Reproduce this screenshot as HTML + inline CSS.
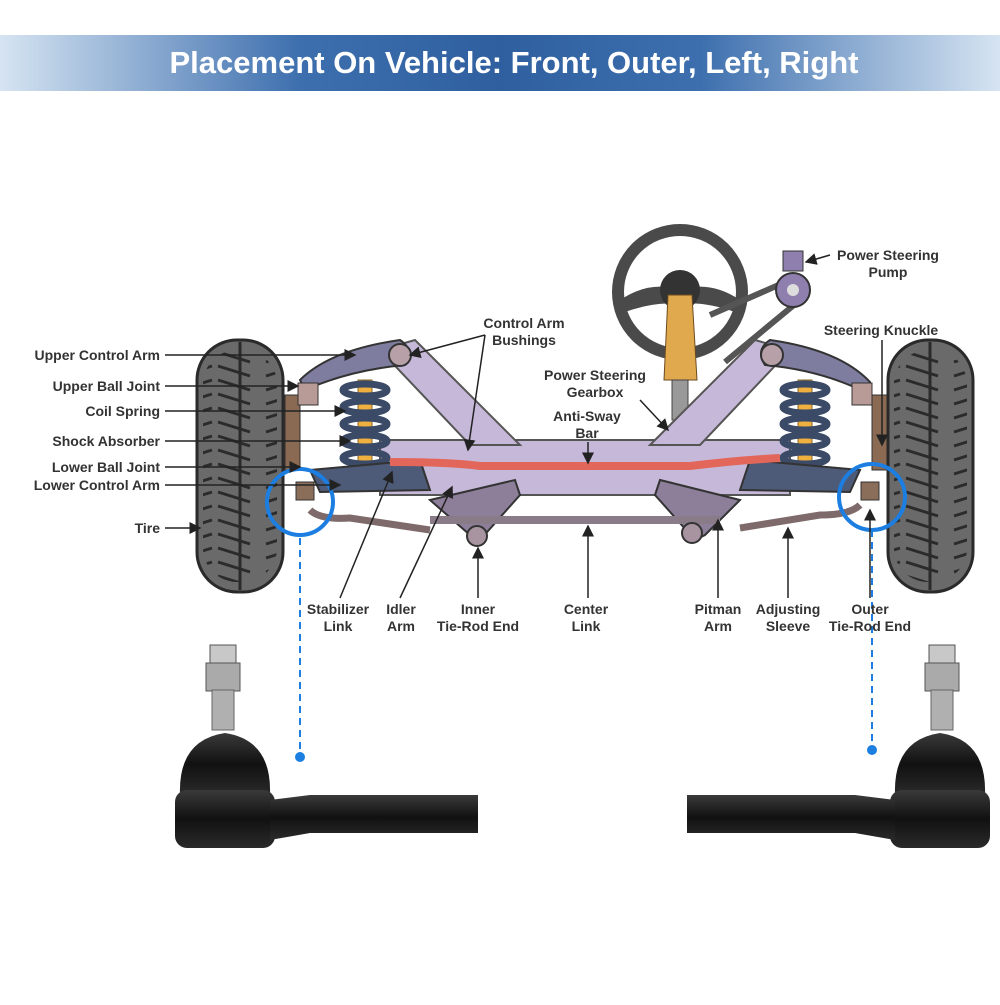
<!DOCTYPE html>
<html><head><meta charset="utf-8"><style>
body{margin:0;background:#fff;width:1000px;height:1000px;overflow:hidden;font-family:"Liberation Sans",sans-serif}
</style></head><body>
<svg width="1000" height="1000" viewBox="0 0 1000 1000" xmlns="http://www.w3.org/2000/svg" font-family="Liberation Sans, sans-serif">
<defs>
<linearGradient id="hd" x1="0" x2="1" y1="0" y2="0">
<stop offset="0" stop-color="#d6e4f2"/><stop offset="0.3" stop-color="#3d6fae"/><stop offset="0.5" stop-color="#2f5f9f"/><stop offset="0.7" stop-color="#3d6fae"/><stop offset="1" stop-color="#d6e4f2"/></linearGradient>
<linearGradient id="blk" x1="0" x2="0" y1="0" y2="1"><stop offset="0" stop-color="#3a3a3a"/><stop offset="0.5" stop-color="#111"/><stop offset="1" stop-color="#2a2a2a"/></linearGradient>
<pattern id="tread" width="86" height="14" patternUnits="userSpaceOnUse"><path d="M8 12 L40 2 M46 2 L78 12" stroke="#2b2b2b" stroke-width="3" fill="none"/></pattern>
<marker id="ar" markerWidth="8" markerHeight="8" refX="7" refY="4" orient="auto"><path d="M0 0 L8 4 L0 8z" fill="#222"/></marker>
</defs>
<rect x="0" y="35" width="1000" height="56" fill="url(#hd)"/>
<text x="514" y="73" text-anchor="middle" font-size="31" font-weight="bold" fill="#fff">Placement On Vehicle: Front, Outer, Left, Right</text>

<!-- steering wheel -->
<circle cx="680" cy="292" r="62" fill="none" stroke="#4a4a4a" stroke-width="12"/>
<path d="M620 300 Q650 280 680 290 Q710 280 740 300 L735 312 Q700 300 680 305 Q660 300 625 312z" fill="#4a4a4a"/>
<circle cx="680" cy="290" r="20" fill="#333"/>
<path d="M668 295 L692 295 L697 380 L664 380z" fill="#e1a94d" stroke="#6b4a20"/>
<rect x="672" y="380" width="16" height="40" fill="#999" stroke="#444"/>
<path d="M710 315 L790 280" stroke="#555" stroke-width="6"/><path d="M725 362 L800 300" stroke="#555" stroke-width="6"/>
<circle cx="793" cy="290" r="17" fill="#8f7fae" stroke="#333" stroke-width="2"/><circle cx="793" cy="290" r="6" fill="#ddd"/>
<rect x="783" y="251" width="20" height="20" fill="#8f7fae" stroke="#333"/>

<!-- frame -->
<path d="M380 440 L790 440 L790 495 L380 495z" fill="#c6b8d8" stroke="#555" stroke-width="2"/>
<path d="M380 350 L415 340 L520 445 L470 445z" fill="#c6b8d8" stroke="#555" stroke-width="2"/>
<path d="M790 350 L755 340 L650 445 L700 445z" fill="#c6b8d8" stroke="#555" stroke-width="2"/>
<!-- upper control arms -->
<path d="M300 380 Q330 350 400 340 Q415 350 405 365 Q350 370 305 390z" fill="#7e7d9f" stroke="#333" stroke-width="2"/>
<path d="M870 382 Q840 350 770 340 Q755 350 765 365 Q820 370 865 392z" fill="#7e7d9f" stroke="#333" stroke-width="2"/>
<circle cx="400" cy="355" r="11" fill="#b8a0a8" stroke="#333" stroke-width="2"/>
<circle cx="772" cy="355" r="11" fill="#b8a0a8" stroke="#333" stroke-width="2"/>
<!-- knuckles -->
<path d="M285 395 L300 395 L300 470 L285 470z" fill="#8a6a52" stroke="#333"/>
<path d="M872 395 L887 395 L887 470 L872 470z" fill="#8a6a52" stroke="#333"/>
<rect x="298" y="383" width="20" height="22" fill="#b89a96" stroke="#333"/>
<rect x="852" y="383" width="20" height="22" fill="#b89a96" stroke="#333"/>
<!-- springs -->
<rect x="358" y="380" width="14" height="90" fill="#f0b040" stroke="#8a6a2a"/>
<rect x="798" y="380" width="14" height="90" fill="#f0b040" stroke="#8a6a2a"/>
<g stroke="#3b4a66" stroke-width="7" fill="none">
<ellipse cx="365" cy="390" rx="22" ry="6"/><ellipse cx="365" cy="407" rx="22" ry="6"/><ellipse cx="365" cy="424" rx="22" ry="6"/><ellipse cx="365" cy="441" rx="22" ry="6"/><ellipse cx="365" cy="458" rx="22" ry="6"/>
<ellipse cx="805" cy="390" rx="22" ry="6"/><ellipse cx="805" cy="407" rx="22" ry="6"/><ellipse cx="805" cy="424" rx="22" ry="6"/><ellipse cx="805" cy="441" rx="22" ry="6"/><ellipse cx="805" cy="458" rx="22" ry="6"/>
</g>
<!-- lower arms -->
<path d="M310 470 L420 460 L430 490 L320 492z" fill="#4d5a78" stroke="#333" stroke-width="2"/>
<path d="M860 470 L750 460 L740 490 L850 492z" fill="#4d5a78" stroke="#333" stroke-width="2"/>
<!-- sway bar -->
<path d="M390 462 Q450 462 480 466 L690 466 Q740 460 780 458" stroke="#e2675a" stroke-width="8" fill="none"/>
<!-- idler/pitman arms -->
<path d="M430 500 L515 480 L520 495 L480 540 L470 535z" fill="#8d7f9a" stroke="#333" stroke-width="2"/>
<path d="M740 500 L660 480 L655 495 L695 540 L705 535z" fill="#8d7f9a" stroke="#333" stroke-width="2"/>
<!-- center link and tie rods -->
<path d="M430 520 L720 520" stroke="#8a7b88" stroke-width="8"/>
<path d="M310 510 Q320 520 350 518 L430 530" stroke="#7e6a6a" stroke-width="7" fill="none"/>
<path d="M860 505 Q850 515 820 515 L740 528" stroke="#7e6a6a" stroke-width="7" fill="none"/>
<circle cx="477" cy="536" r="10" fill="#a894a0" stroke="#333" stroke-width="2"/>
<circle cx="692" cy="533" r="10" fill="#a894a0" stroke="#333" stroke-width="2"/>
<rect x="296" y="482" width="18" height="18" fill="#8a6e5a" stroke="#333"/>
<rect x="861" y="482" width="18" height="18" fill="#8a6e5a" stroke="#333"/>

<!-- tires -->
<rect x="197" y="340" width="86" height="252" rx="40" fill="#6a6a6a" stroke="#2a2a2a" stroke-width="3"/>
<rect x="203" y="350" width="74" height="232" rx="34" fill="url(#tread)"/>
<line x1="240" y1="342" x2="240" y2="590" stroke="#2a2a2a" stroke-width="3"/>
<rect x="888" y="340" width="85" height="252" rx="40" fill="#6a6a6a" stroke="#2a2a2a" stroke-width="3"/>
<rect x="894" y="350" width="73" height="232" rx="34" fill="url(#tread)"/>
<line x1="930" y1="342" x2="930" y2="590" stroke="#2a2a2a" stroke-width="3"/>

<!-- blue circles -->
<circle cx="300" cy="502" r="33" fill="none" stroke="#1c7ee0" stroke-width="4"/>
<circle cx="872" cy="497" r="33" fill="none" stroke="#1c7ee0" stroke-width="4"/>
<line x1="300" y1="538" x2="300" y2="755" stroke="#1c7ee0" stroke-width="2" stroke-dasharray="7,5"/>
<line x1="872" y1="530" x2="872" y2="748" stroke="#1c7ee0" stroke-width="2" stroke-dasharray="7,5"/>
<circle cx="300" cy="757" r="5" fill="#1c7ee0"/><circle cx="872" cy="750" r="5" fill="#1c7ee0"/>

<!-- leaders -->
<g stroke="#222" stroke-width="1.5" marker-end="url(#ar)" fill="none">
<line x1="165" y1="355" x2="355" y2="355"/>
<line x1="165" y1="386" x2="298" y2="386"/>
<line x1="165" y1="411" x2="345" y2="411"/>
<line x1="165" y1="441" x2="350" y2="441"/>
<line x1="165" y1="467" x2="300" y2="467"/>
<line x1="165" y1="485" x2="340" y2="485"/>
<line x1="165" y1="528" x2="200" y2="528"/>
<line x1="485" y1="335" x2="410" y2="355"/>
<line x1="485" y1="335" x2="468" y2="450"/>
<line x1="640" y1="400" x2="668" y2="430"/>
<line x1="588" y1="442" x2="588" y2="463"/>
<line x1="830" y1="255" x2="806" y2="262"/>
<line x1="882" y1="340" x2="882" y2="445"/>
<line x1="340" y1="598" x2="392" y2="472"/>
<line x1="400" y1="598" x2="452" y2="487"/>
<line x1="478" y1="598" x2="478" y2="548"/>
<line x1="588" y1="598" x2="588" y2="526"/>
<line x1="718" y1="598" x2="718" y2="520"/>
<line x1="788" y1="598" x2="788" y2="528"/>
<line x1="870" y1="598" x2="870" y2="510"/>
</g>

<g font-size="14" font-weight="bold" fill="#333">
<g text-anchor="end">
<text x="160" y="360">Upper Control Arm</text>
<text x="160" y="391">Upper Ball Joint</text>
<text x="160" y="416">Coil Spring</text>
<text x="160" y="446">Shock Absorber</text>
<text x="160" y="472">Lower Ball Joint</text>
<text x="160" y="490">Lower Control Arm</text>
<text x="160" y="533">Tire</text>
</g>
<g text-anchor="middle">
<text x="524" y="328">Control Arm</text><text x="524" y="345">Bushings</text>
<text x="595" y="380">Power Steering</text><text x="595" y="397">Gearbox</text>
<text x="587" y="421">Anti-Sway</text><text x="587" y="438">Bar</text>
<text x="888" y="260">Power Steering</text><text x="888" y="277">Pump</text>
<text x="881" y="335">Steering Knuckle</text>
<text x="338" y="614">Stabilizer</text><text x="338" y="631">Link</text>
<text x="401" y="614">Idler</text><text x="401" y="631">Arm</text>
<text x="478" y="614">Inner</text><text x="478" y="631">Tie-Rod End</text>
<text x="586" y="614">Center</text><text x="586" y="631">Link</text>
<text x="718" y="614">Pitman</text><text x="718" y="631">Arm</text>
<text x="788" y="614">Adjusting</text><text x="788" y="631">Sleeve</text>
<text x="870" y="614">Outer</text><text x="870" y="631">Tie-Rod End</text>
</g></g>

<!-- tie rod end left -->
<g>
<rect x="210" y="645" width="26" height="20" fill="#c8c8c8" stroke="#555"/>
<rect x="206" y="663" width="34" height="28" fill="#aaa" stroke="#555"/>
<rect x="212" y="690" width="22" height="40" fill="#b0b0b0" stroke="#666"/>
<path d="M180 795 Q178 740 225 733 Q272 740 270 795z" fill="url(#blk)"/>
<rect x="175" y="790" width="100" height="58" rx="12" fill="url(#blk)"/>
<path d="M270 800 L310 795 L478 795 L478 833 L310 833 L270 840z" fill="url(#blk)"/>
</g>
<g transform="translate(1165,0) scale(-1,1)">
<rect x="210" y="645" width="26" height="20" fill="#c8c8c8" stroke="#555"/>
<rect x="206" y="663" width="34" height="28" fill="#aaa" stroke="#555"/>
<rect x="212" y="690" width="22" height="40" fill="#b0b0b0" stroke="#666"/>
<path d="M180 795 Q178 740 225 733 Q272 740 270 795z" fill="url(#blk)"/>
<rect x="175" y="790" width="100" height="58" rx="12" fill="url(#blk)"/>
<path d="M270 800 L310 795 L478 795 L478 833 L310 833 L270 840z" fill="url(#blk)"/>
</g>
</svg>
</body></html>
